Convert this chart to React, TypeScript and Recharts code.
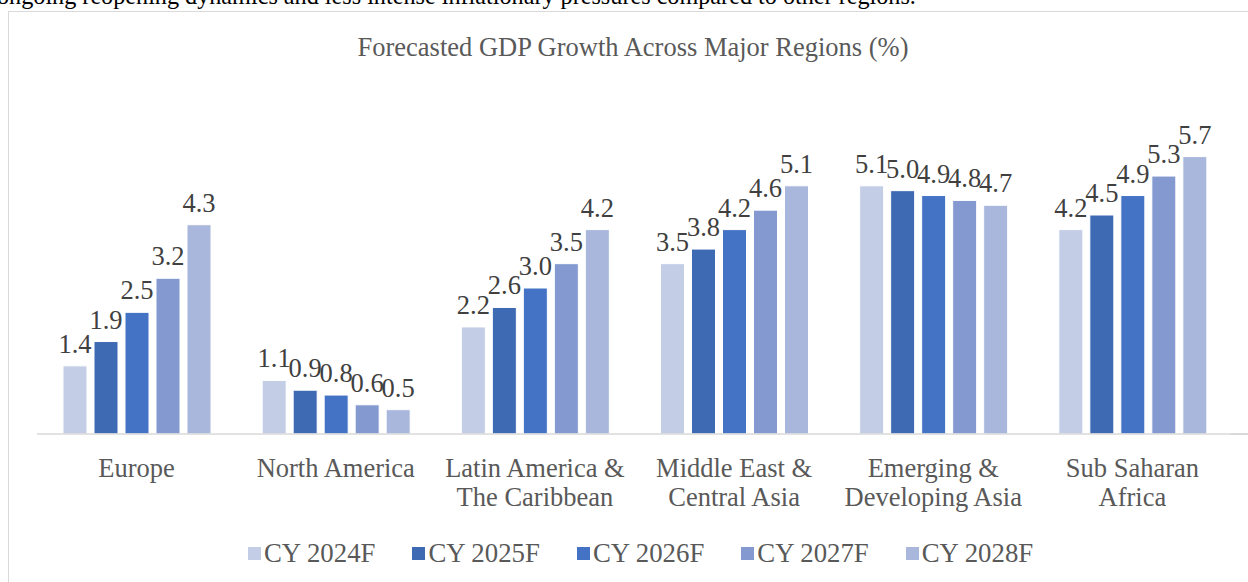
import React from "react";
import { Bar, BarChart, LabelList, XAxis, YAxis } from "recharts";

const regions = [
  "Europe",
  "North America",
  "Latin America & The Caribbean",
  "Middle East & Central Asia",
  "Emerging & Developing Asia",
  "Sub Saharan Africa",
];

// tick labels split over two lines like the original
const tickLines: Record<string, string[]> = {
  "Europe": ["Europe"],
  "North America": ["North America"],
  "Latin America & The Caribbean": ["Latin America &", "The Caribbean"],
  "Middle East & Central Asia": ["Middle East &", "Central Asia"],
  "Emerging & Developing Asia": ["Emerging &", "Developing Asia"],
  "Sub Saharan Africa": ["Sub Saharan", "Africa"],
};

const cy2024 = [1.4, 1.1, 2.2, 3.5, 5.1, 4.2];
const cy2025 = [1.9, 0.9, 2.6, 3.8, 5.0, 4.5];
const cy2026 = [2.5, 0.8, 3.0, 4.2, 4.9, 4.9];
const cy2027 = [3.2, 0.6, 3.5, 4.6, 4.8, 5.3];
const cy2028 = [4.3, 0.5, 4.2, 5.1, 4.7, 5.7];

const series = [
  { key: "y2024", name: "CY 2024F", color: "#C3CDE6", values: cy2024 },
  { key: "y2025", name: "CY 2025F", color: "#3E69B3", values: cy2025 },
  { key: "y2026", name: "CY 2026F", color: "#4472C4", values: cy2026 },
  { key: "y2027", name: "CY 2027F", color: "#8399D0", values: cy2027 },
  { key: "y2028", name: "CY 2028F", color: "#A9B7DC", values: cy2028 },
];

const chartData = regions.map((region, i) => {
  const row: Record<string, string | number> = { region };
  series.forEach((s) => {
    row[s.key] = s.values[i];
  });
  return row;
});

const FONT = '"Liberation Serif", "Times New Roman", serif';

const RegionTick = (props: any) => {
  const { x, y, payload } = props;
  const lines = tickLines[payload.value] || [payload.value];
  return (
    <g transform={`translate(${x},${y})`}>
      {lines.map((line, i) => (
        <text
          key={i}
          x={0}
          y={35 + i * 29}
          textAnchor="middle"
          fill="#595959"
          fontSize={26.5}
          fontFamily={FONT}
        >
          {line}
        </text>
      ))}
    </g>
  );
};

const App: React.FC = () => {
  return (
    <div
      style={{
        position: "absolute",
        left: 0,
        top: 0,
        width: 1248,
        height: 582,
        overflow: "hidden",
        background: "#fff",
      }}
    >
      <div
        style={{
          position: "absolute",
          left: -3,
          top: -16,
          fontFamily: FONT,
          fontSize: 24.2,
          lineHeight: "24px",
          color: "#000",
          whiteSpace: "nowrap",
        }}
      >
        ongoing reopening dynamics and less intense inflationary pressures compared to other regions.
      </div>
      <div
        style={{
          position: "absolute",
          left: 8,
          top: 11,
          width: 1260,
          height: 600,
          border: "1px solid #D9D9D9",
        }}
      />
      <div
        style={{
          position: "absolute",
          left: 8,
          top: 34,
          width: 1250,
          textAlign: "center",
          fontFamily: FONT,
          fontSize: 26.5,
          lineHeight: "26px",
          color: "#595959",
        }}
      >
        Forecasted GDP Growth Across Major Regions (%)
      </div>
      <div style={{ position: "absolute", left: 0, top: 0 }}>
        <BarChart
          width={1248}
          height={582}
          data={chartData}
          margin={{ top: 142, right: 16, left: 37, bottom: 0 }}
          barCategoryGap={26}
          barGap={7}
        >
          <XAxis
            dataKey="region"
            axisLine={{ stroke: "#D9D9D9", strokeWidth: 1.5 }}
            tickLine={false}
            tick={<RegionTick />}
            interval={0}
            height={148}
          />
          <YAxis hide domain={[0, 6]} />
          {series.map((s) => (
            <Bar
              key={s.key}
              dataKey={s.key}
              name={s.name}
              fill={s.color}
              stroke="#fff"
              strokeWidth={1}
              isAnimationActive={false}
            >
              <LabelList
                dataKey={s.key}
                position="top"
                offset={13}
                formatter={(v: any) => Number(v).toFixed(1)}
                style={{ fontFamily: FONT, fontSize: 26.5, fill: "#404040" }}
              />
            </Bar>
          ))}
        </BarChart>
      </div>
      {/* axis line continues to the frame edge */}
      <div
        style={{
          position: "absolute",
          left: 1230,
          top: 433,
          width: 18,
          height: 1.5,
          background: "#D9D9D9",
        }}
      />
      <div
        style={{
          position: "absolute",
          left: 248,
          top: 540,
          display: "flex",
          gap: 37,
          fontFamily: FONT,
          fontSize: 26.8,
          lineHeight: "26px",
          color: "#595959",
          whiteSpace: "nowrap",
        }}
      >
        {series.map((s) => (
          <div key={s.key} style={{ display: "flex", alignItems: "center" }}>
            <span
              style={{
                display: "inline-block",
                width: 13,
                height: 13,
                background: s.color,
                marginRight: 3,
              }}
            />
            <span>{s.name}</span>
          </div>
        ))}
      </div>
    </div>
  );
};

export default App;
